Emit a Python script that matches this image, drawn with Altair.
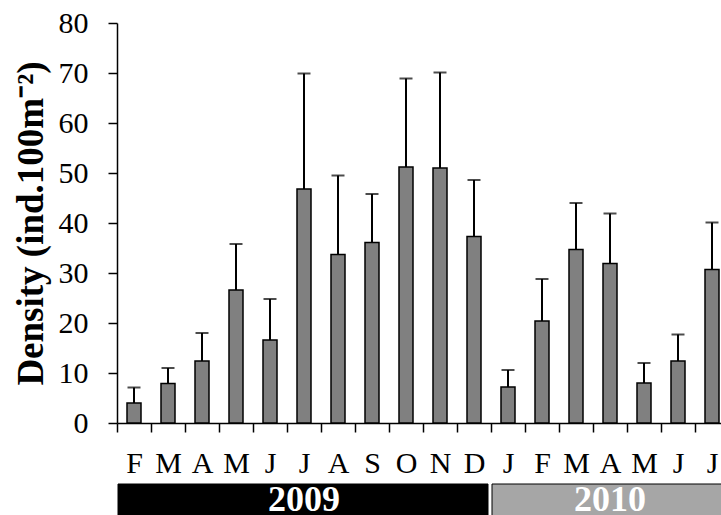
import json
import altair as alt
import pandas as pd

# ---- data ----
months = ["F", "M", "A", "M", "J", "J", "A", "S", "O", "N", "D",
          "J", "F", "M", "A", "M", "J", "J"]
density = [4.0, 7.9, 12.4, 26.6, 16.6, 46.8, 33.7, 36.1, 51.2, 51.0, 37.3,
           7.2, 20.4, 34.7, 31.9, 8.0, 12.4, 30.7]
sd = [3.1, 3.1, 5.6, 9.2, 8.2, 23.1, 15.8, 9.7, 17.7, 19.1, 11.3,
      3.4, 8.4, 9.3, 10.0, 4.0, 5.3, 9.4]
years = ["2009", "2010"]
year_start = [0, 11]   # first month index of each year block
year_end = [11, 18]    # one past last month index

df = pd.DataFrame({"idx": list(range(len(months))), "month": months,
                   "density": density, "sd": sd})
ydf = pd.DataFrame({"year": years, "start": year_start, "end": year_end})

FONT = "Liberation Serif"
N = len(months)
STEP = 34
xscale = alt.Scale(domain=list(range(N)), range=[0, N * STEP],
                   paddingInner=0, paddingOuter=0)
label_expr = json.dumps(months) + "[datum.value]"

x_axis = alt.Axis(title=None, labelExpr=label_expr, tickBand="extent",
                  tickSize=9, tickWidth=1.5, tickColor="black",
                  domainColor="black", domainWidth=1.5, labelAngle=0,
                  labelFont=FONT, labelFontSize=30, labelColor="black",
                  labelPadding=16, grid=False)
y_axis = alt.Axis(values=list(range(0, 81, 10)),
                  title="Density (ind.100m⁻²)",
                  titleFont=FONT, titleFontSize=37, titleFontWeight="bold",
                  titleColor="black", titleX=-86, titleY=200, titleAngle=270,
                  titleAlign="center", titleBaseline="middle",
                  tickSize=9, tickWidth=1.5, tickColor="black",
                  domainColor="black", domainWidth=1.5,
                  labelFont=FONT, labelFontSize=30, labelColor="black",
                  labelPadding=20, grid=False)

x_main = alt.X("idx:O", scale=xscale, axis=x_axis)
y_scale = alt.Scale(domain=[0, 80], nice=False)

base = alt.Chart(df).transform_calculate(upper="datum.density + datum.sd")

bars = base.mark_bar(width=14, fill="#808080", stroke="black", strokeWidth=1.5).encode(
    x=x_main, y=alt.Y("density:Q", scale=y_scale, axis=y_axis))
err = base.mark_rule(color="black", strokeWidth=2).encode(
    x=x_main, y=alt.Y("density:Q", scale=y_scale, axis=y_axis), y2="upper:Q")
cap = base.mark_tick(color="black", thickness=2, size=13).encode(
    x=x_main, y=alt.Y("upper:Q", scale=y_scale, axis=y_axis))

main = alt.layer(bars, err, cap)

q_scale = alt.Scale(domain=[0, N], range=[0, N * STEP], nice=False, zero=False)
band = alt.Chart(ydf).mark_rect(stroke="black", strokeWidth=1, xOffset=1, x2Offset=-3).encode(
    x=alt.X("start:Q", scale=q_scale, axis=None),
    x2="end:Q",
    y=alt.value(461), y2=alt.value(520),
    color=alt.Color("year:N", scale=alt.Scale(domain=years, range=["black", "#a6a6a6"]),
                    legend=None))
band_text = alt.Chart(ydf).transform_calculate(mid="(datum.start + datum.end) / 2").mark_text(
    color="white", font=FONT, fontSize=36, fontWeight="bold",
    baseline="alphabetic", align="center").encode(
    x=alt.X("mid:Q", scale=q_scale, axis=None),
    y=alt.value(488),
    text="year:N")
years_layer = alt.layer(band, band_text)

chart = alt.layer(main, years_layer).resolve_scale(x="independent").properties(
    width=604, height=400,
    padding={"left": 117, "top": 23, "right": 0, "bottom": 92},
    autosize=alt.AutoSizeParams(type="none"),
    background="white",
).configure_view(stroke=None)

chart.save("out.html", embed_options={"renderer": "svg", "actions": False})
